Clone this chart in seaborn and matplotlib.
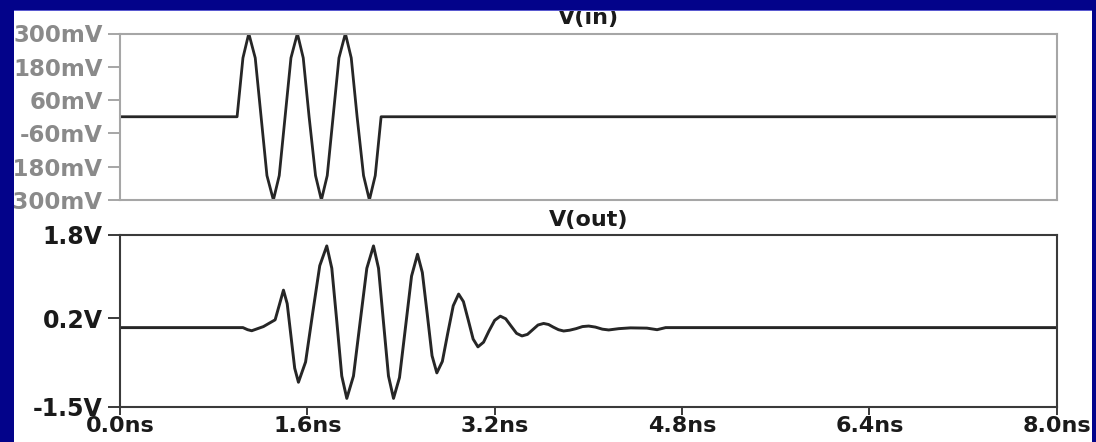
import matplotlib
matplotlib.use("Agg")
import matplotlib.pyplot as plt
from matplotlib.patches import Rectangle
import seaborn as sns
import pandas as pd

# V(in): three-cycle RF burst (time in ns, amplitude in V)
vin_t = [0.0, 1.00, 1.05, 1.10, 1.155, 1.205, 1.255, 1.31, 1.36, 1.41, 1.46,
         1.515, 1.565, 1.615, 1.67, 1.72, 1.77, 1.82, 1.87, 1.925, 1.975,
         2.025, 2.08, 2.13, 2.18, 2.23, 8.0]
vin_v = [0.0, 0.0, 0.212, 0.300, 0.212, 0.0, -0.212, -0.300, -0.212, 0.0, 0.212,
         0.300, 0.212, 0.0, -0.212, -0.300, -0.212, 0.0, 0.212, 0.300, 0.212,
         0.0, -0.212, -0.300, -0.212, 0.0, 0.0]

# V(out): ringing response (time in ns, amplitude in V)
vout_t = [0.0, 1.05, 1.09, 1.125, 1.225, 1.325, 1.36, 1.396, 1.428, 1.46, 1.492,
          1.524, 1.585, 1.645, 1.706, 1.766, 1.809, 1.852, 1.894, 1.937, 1.994,
          2.051, 2.108, 2.165, 2.208, 2.25, 2.293, 2.336, 2.387, 2.439, 2.49,
          2.541, 2.582, 2.624, 2.665, 2.706, 2.753, 2.799, 2.846, 2.892, 2.933,
          2.975, 3.016, 3.057, 3.105, 3.15, 3.20, 3.248, 3.294, 3.34, 3.387,
          3.433, 3.48, 3.525, 3.57, 3.618, 3.66, 3.70, 3.745, 3.789, 3.84,
          3.895, 3.95, 4.003, 4.06, 4.12, 4.174, 4.26, 4.36, 4.50, 4.587,
          4.66, 8.0]
vout_v = [0.02, 0.02, -0.02, -0.04, 0.04, 0.17, 0.45, 0.74, 0.48, -0.14, -0.76,
          -1.03, -0.64, 0.29, 1.21, 1.59, 1.16, 0.13, -0.91, -1.34, -0.91,
          0.13, 1.16, 1.59, 1.16, 0.13, -0.91, -1.34, -0.94, 0.04, 1.01,
          1.43, 1.08, 0.28, -0.52, -0.85, -0.63, -0.09, 0.44, 0.665, 0.52,
          0.16, -0.20, -0.35, -0.26, -0.05, 0.16, 0.24, 0.19, 0.05, -0.09,
          -0.14, -0.11, -0.02, 0.07, 0.10, 0.08, 0.03, -0.02, -0.045, -0.03,
          0.0, 0.04, 0.05, 0.03, -0.01, -0.025, 0.0, 0.015, 0.01, -0.02,
          0.02, 0.02]

time_ticks = [0.0, 1.6, 3.2, 4.8, 6.4, 8.0]
time_labels = ["0.0ns", "1.6ns", "3.2ns", "4.8ns", "6.4ns", "8.0ns"]
vin_ticks = [-0.30, -0.18, -0.06, 0.06, 0.18, 0.30]
vin_labels = ["-300mV", "-180mV", "-60mV", "60mV", "180mV", "300mV"]
vout_ticks = [-1.5, 0.2, 1.8]
vout_labels = ["-1.5V", "0.2V", "1.8V"]

sns.set_theme(style="white")
plt.rcParams["font.family"] = ["DejaVu Sans"]
plt.rcParams["font.weight"] = "bold"

W, H = 1096, 442
fig = plt.figure(figsize=(W / 100, H / 100), dpi=100, facecolor="white")

def px_axes(left, top, right, bottom):
    return fig.add_axes([left / W, 1 - bottom / H, (right - left) / W, (bottom - top) / H])

ax_in = px_axes(120, 33.5, 1056.7, 200)
ax_out = px_axes(120, 235, 1056.7, 406.7)

df_in = pd.DataFrame({"t": vin_t, "v": vin_v})
df_out = pd.DataFrame({"t": vout_t, "v": vout_v})

sns.lineplot(data=df_in, x="t", y="v", ax=ax_in, estimator=None, sort=False,
             color="#262626", linewidth=2.0)
sns.lineplot(data=df_out, x="t", y="v", ax=ax_out, estimator=None, sort=False,
             color="#262626", linewidth=2.1)

grey = "#a6a6a6"
grey_txt = "#8a8a8a"
dark = "#3a3a3a"

# upper pane: light grey frame and labels, no time axis
ax_in.set_xlim(0, 8)
ax_in.set_ylim(-0.3, 0.3)
ax_in.set_xticks([])
ax_in.set_yticks(vin_ticks)
ax_in.set_yticklabels(vin_labels)
ax_in.tick_params(axis="y", length=9, width=1.4, pad=3.5, color=grey,
                  labelcolor=grey_txt, labelsize=16.5, left=True)
for s in ax_in.spines.values():
    s.set_color(grey)
    s.set_linewidth(1.5)
ax_in.set_xlabel("")
ax_in.set_ylabel("")
ax_in.set_title("V(in)", fontsize=16, fontweight="bold", color="#1a1a1a", pad=6.5)

# lower pane: dark frame with time axis
ax_out.set_xlim(0, 8)
ax_out.set_ylim(-1.5, 1.8)
ax_out.set_xticks(time_ticks)
ax_out.set_xticklabels(time_labels)
ax_out.set_yticks(vout_ticks)
ax_out.set_yticklabels(vout_labels)
ax_out.tick_params(axis="y", length=9, width=1.4, pad=3.5, color=dark,
                   labelcolor="#1a1a1a", labelsize=17, left=True)
ax_out.tick_params(axis="x", length=6, width=1.4, pad=0.5, color=dark,
                   labelcolor="#1a1a1a", labelsize=16, bottom=True)
for s in ax_out.spines.values():
    s.set_color(dark)
    s.set_linewidth(1.5)
ax_out.set_xlabel("")
ax_out.set_ylabel("")
ax_out.set_title("V(out)", fontsize=16, fontweight="bold", color="#1a1a1a", pad=6.5)

for ax in (ax_in, ax_out):
    for lab in ax.get_xticklabels() + ax.get_yticklabels():
        lab.set_fontweight("bold")

# navy window frame drawn over everything
navy = "#03038a"
frame = [
    (0, H - 10, W, 10),          # top strip
    (0, 0, 13.5, H),             # left strip
    (1091.5, 0, W - 1091.5, H),  # right strip
]
for x0, y0, w, h in frame:
    fig.patches.append(Rectangle((x0 / W, y0 / H), w / W, h / H,
                                 transform=fig.transFigure, facecolor=navy,
                                 edgecolor="none", zorder=20))
# soft lighter edge where the frame meets the white panel
fig.patches.append(Rectangle((13.5 / W, (H - 11) / H), (1091.5 - 13.5) / W, 1.2 / H,
                             transform=fig.transFigure, facecolor="#5a5ad0",
                             edgecolor="none", zorder=19))

fig.savefig("out.png", dpi=100, facecolor="white")
